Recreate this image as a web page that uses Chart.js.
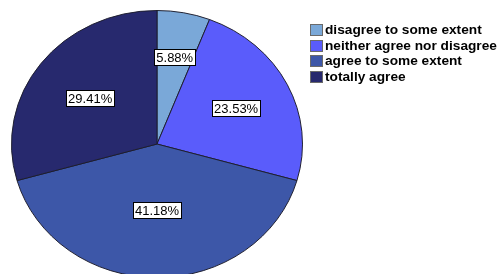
<!DOCTYPE html>
<html>
<head>
<meta charset="utf-8">
<script src="https://cdn.jsdelivr.net/npm/chart.js@4.4.1/dist/chart.umd.min.js"></script>
<style>
    html, body { margin: 0; padding: 0; background: #fff; }
    #wrap { width: 498px; height: 274px; overflow: hidden; }
    canvas { display: block; }
</style>
</head>
<body>
<div id="wrap"><canvas id="pieChart" width="498" height="310"></canvas></div>
<script>
    const categories = ['disagree to some extent', 'neither agree nor disagree', 'agree to some extent', 'totally agree'];
    const percentages = [5.88, 23.53, 41.18, 29.41];
    const sliceColors = ['#7aa8d8', '#5a5cfb', '#3d57a8', '#27296e'];

    const fontFamily = "'Liberation Sans', Arial, sans-serif";
    // the original pie is a little flatter than it is wide
    const squash = 134 / 146;

    // label sits on the centroid of its sector
    function centroidFactor(arc) {
        const half = (arc.endAngle - arc.startAngle) / 2;
        return (2 / 3) * Math.sin(half) / half;
    }

    const ellipsePlugin = {
        id: 'ellipse',
        beforeDatasetsDraw(chart) {
            const arc = chart.getDatasetMeta(0).data[0];
            const top = arc.y - arc.outerRadius;
            const ctx = chart.ctx;
            ctx.save();
            ctx.translate(0, top);
            ctx.scale(1, squash);
            ctx.translate(0, -top);
        },
        afterDatasetsDraw(chart) {
            const ctx = chart.ctx;
            ctx.restore();

            // percentage boxes
            const meta = chart.getDatasetMeta(0);
            ctx.save();
            ctx.font = '13px ' + fontFamily;
            ctx.textAlign = 'center';
            ctx.textBaseline = 'middle';
            meta.data.forEach((arc, i) => {
                const mid = (arc.startAngle + arc.endAngle) / 2;
                const d = arc.outerRadius * centroidFactor(arc);
                const top = arc.y - arc.outerRadius;
                const x = arc.x + Math.cos(mid) * d;
                const y = top + (arc.y + Math.sin(mid) * d - top) * squash;
                const text = percentages[i].toFixed(2) + '%';
                const w = Math.round(ctx.measureText(text).width + 4);
                const h = 16;
                const bx = Math.round(x - w / 2) + 0.5;
                const by = Math.round(y - h / 2) + 0.5;
                ctx.fillStyle = '#fff';
                ctx.fillRect(bx, by, w, h);
                ctx.strokeStyle = '#000';
                ctx.lineWidth = 1;
                ctx.strokeRect(bx, by, w, h);
                ctx.fillStyle = '#000';
                ctx.fillText(text, x, by + h / 2 + 0.5);
            });
            ctx.restore();
        }
    };

    const legendPlugin = {
        id: 'sideLegend',
        afterDraw(chart) {
            const ctx = chart.ctx;
            const colors = chart.data.datasets[0].backgroundColor;
            ctx.save();
            ctx.font = 'bold 13.7px ' + fontFamily;
            ctx.textBaseline = 'middle';
            ctx.textAlign = 'left';
            chart.data.labels.forEach((label, i) => {
                const y = 24 + i * 15.5;
                ctx.fillStyle = colors[i];
                ctx.fillRect(310.5, Math.round(y) + 0.5, 12, 11);
                ctx.strokeStyle = '#6a6a6a';
                ctx.lineWidth = 1;
                ctx.strokeRect(310.5, Math.round(y) + 0.5, 12, 11);
                ctx.fillStyle = '#000';
                ctx.fillText(label, 325, Math.round(y) + 6.5);
            });
            ctx.restore();
        }
    };

    const pieCtx = document.getElementById('pieChart').getContext('2d');
    const pieChart = new Chart(pieCtx, {
        type: 'pie',
        data: {
            labels: categories,
            datasets: [{
                data: percentages,
                backgroundColor: sliceColors,
                borderColor: '#1c1c2c',
                borderWidth: 1
            }]
        },
        options: {
            responsive: false,
            animation: false,
            layout: {
                padding: { left: 11, top: 10, right: 195, bottom: 8 }
            },
            plugins: {
                legend: { display: false },
                tooltip: { enabled: false }
            }
        },
        plugins: [ellipsePlugin, legendPlugin]
    });
</script>
</body>
</html>
